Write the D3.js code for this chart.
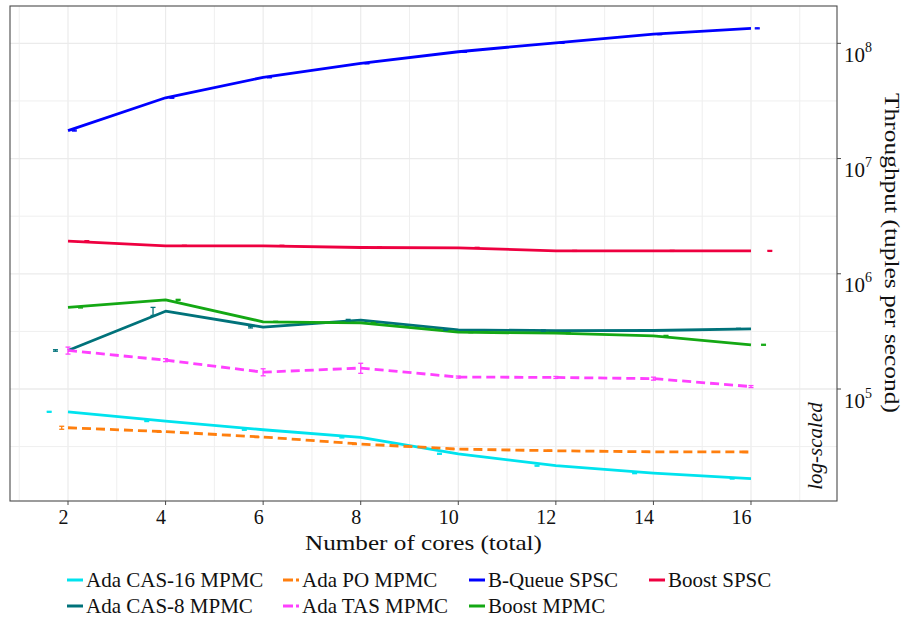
<!DOCTYPE html>
<html>
<head>
<meta charset="utf-8">
<script src="https://cdn.jsdelivr.net/npm/d3@7"></script>
<style>
  html, body { margin: 0; padding: 0; background: #fff; }
  svg { display: block; }
</style>
</head>
<body>
<svg id="chart" width="908" height="618"></svg>
<script>
// ---------------- DATA ----------------
const cores = [2, 4, 6, 8, 10, 12, 14, 16];

const seriesNames = [
  "Ada CAS-16 MPMC", "Ada CAS-8 MPMC", "Ada PO MPMC", "Ada TAS MPMC",
  "B-Queue SPSC", "Boost MPMC", "Boost SPSC"
];

const adaCas16 = [63400, 52700, 44300, 38000, 27400, 21600, 18600, 16700];
const adaCas8  = [216000, 473000, 344000, 396000, 326000, 321000, 322000, 333000];
const adaPo    = [46100, 42600, 38300, 33300, 30100, 29100, 28500, 28400];
const adaTas   = [216000, 178000, 140000, 152000, 127000, 126000, 123000, 105000];
const bQueue   = [17500000, 33700000, 50700000, 67000000, 84500000, 101000000, 120000000, 135000000];
const boostMp  = [510000, 594000, 383000, 375000, 311000, 305000, 289000, 242000];
const boostSp  = [1920000, 1750000, 1750000, 1690000, 1680000, 1580000, 1580000, 1580000];

// relative half-range of the error bars (fraction of the mean)
const adaCas16Err = [0.01, 0.01, 0.01, 0.01, 0.01, 0.01, 0.01, 0.01];
const adaCas8Err  = [0.015, 0.08, 0.015, 0.015, 0.01, 0.015, 0.01, 0.01];
const adaPoErr    = [0.03, 0.01, 0.01, 0.01, 0.01, 0.01, 0.01, 0.01];
const adaTasErr   = [0.07, 0.03, 0.07, 0.10, 0.02, 0.02, 0.03, 0.02];
const bQueueErr   = [0.01, 0.01, 0.01, 0.01, 0.01, 0.01, 0.01, 0.01];
const boostMpErr  = [0.01, 0.01, 0.01, 0.01, 0.01, 0.01, 0.01, 0.01];
const boostSpErr  = [0.01, 0.01, 0.01, 0.01, 0.01, 0.01, 0.01, 0.01];

const xTicks = [2, 4, 6, 8, 10, 12, 14, 16];
const yTickExponents = [5, 6, 7, 8];

const xTitle = "Number of cores (total)";
const yTitle = "Throughput (tuples per second)";
const scaleNote = "log-scaled";

// ---------------- STYLE ----------------
const FONT = "'Liberation Serif', 'DejaVu Serif', 'Noto Serif', 'Times New Roman', Times, serif";
const colors = ["#00E3EE", "#00727A", "#FF7F0E", "#FF40FF", "#0000FF", "#14A814", "#EE0040"];
const dashed = [false, false, true, true, false, false, false];
const values = [adaCas16, adaCas8, adaPo, adaTas, bQueue, boostMp, boostSp];
const errs = [adaCas16Err, adaCas8Err, adaPoErr, adaTasErr, bQueueErr, boostMpErr, boostSpErr];

const series = seriesNames.map((name, i) => ({
  name, color: colors[i], dashed: dashed[i],
  points: cores.map((c, j) => ({ x: c, y: values[i][j], e: errs[i][j] }))
}));

// ---------------- LAYOUT ----------------
const svg = d3.select("#chart").style("font-family", FONT);
const P = { left: 10, right: 837, top: 6, bottom: 501 };

const x = d3.scaleLinear().domain([0.811, 17.763]).range([P.left, P.right]);
const y = d3.scaleLog().domain([Math.pow(10, 4.028), Math.pow(10, 8.324)]).range([P.bottom, P.top]);

svg.append("rect").attr("width", 908).attr("height", 618).attr("fill", "#fff");

const grid = svg.append("g");
const xMinor = d3.range(1, 18, 2);
grid.selectAll(".xm").data(xMinor).join("line")
  .attr("x1", d => x(d)).attr("x2", d => x(d))
  .attr("y1", P.top).attr("y2", P.bottom)
  .attr("stroke", "#efefef").attr("stroke-width", 1);
grid.selectAll(".xM").data(xTicks).join("line")
  .attr("x1", d => x(d)).attr("x2", d => x(d))
  .attr("y1", P.top).attr("y2", P.bottom)
  .attr("stroke", "#ebebeb").attr("stroke-width", 1.2);
const yMinor = [4.5, 5.5, 6.5, 7.5];
grid.selectAll(".ym").data(yMinor).join("line")
  .attr("x1", P.left).attr("x2", P.right)
  .attr("y1", d => y(Math.pow(10, d))).attr("y2", d => y(Math.pow(10, d)))
  .attr("stroke", "#efefef").attr("stroke-width", 1);
grid.selectAll(".yM").data(yTickExponents).join("line")
  .attr("x1", P.left).attr("x2", P.right)
  .attr("y1", d => y(Math.pow(10, d))).attr("y2", d => y(Math.pow(10, d)))
  .attr("stroke", "#ebebeb").attr("stroke-width", 1.3);

// ---------------- LINES ----------------
const line = d3.line().x(d => x(d.x)).y(d => y(d.y));
const plot = svg.append("g");

series.forEach(s => {
  plot.append("path")
    .datum(s.points)
    .attr("d", line)
    .attr("fill", "none")
    .attr("stroke", s.color)
    .attr("stroke-width", 2.8)
    .attr("stroke-linejoin", "round")
    .attr("stroke-dasharray", s.dashed ? "9,5" : null);
});

// ---------------- ERROR BARS (dodged) ----------------
const dodgeWidth = 0.9;
const n = series.length;
series.forEach((s, i) => {
  const off = (i - (n - 1) / 2) * dodgeWidth / n;
  const g = plot.append("g").attr("stroke", s.color).attr("stroke-width", 1.3);
  s.points.forEach(p => {
    const cx = x(p.x + off);
    const y1 = y(p.y * (1 + p.e)), y2 = y(p.y * (1 - p.e));
    g.append("line").attr("x1", cx).attr("x2", cx).attr("y1", y1).attr("y2", y2);
    g.append("line").attr("x1", cx - 2.5).attr("x2", cx + 2.5).attr("y1", y1).attr("y2", y1);
    g.append("line").attr("x1", cx - 2.5).attr("x2", cx + 2.5).attr("y1", y2).attr("y2", y2);
  });
});

// ---------------- PANEL BORDER & AXES ----------------
svg.append("rect")
  .attr("x", P.left).attr("y", P.top)
  .attr("width", P.right - P.left).attr("height", P.bottom - P.top)
  .attr("fill", "none").attr("stroke", "#4a4a4a").attr("stroke-width", 1.1);

const xAx = svg.append("g");
xAx.selectAll("line").data(xTicks).join("line")
  .attr("x1", d => x(d)).attr("x2", d => x(d))
  .attr("y1", P.bottom).attr("y2", P.bottom + 4)
  .attr("stroke", "#4a4a4a").attr("stroke-width", 1);
xAx.selectAll("text").data(xTicks).join("text")
  .attr("x", d => x(d) + 0.5).attr("y", 524)
  .attr("text-anchor", "end")
  .style("font-family", FONT)
  .attr("font-size", 20)
  .attr("fill", "#111")
  .text(d => d);

const yAx = svg.append("g");
yAx.selectAll("line").data(yTickExponents).join("line")
  .attr("x1", P.right).attr("x2", P.right + 4)
  .attr("y1", d => y(Math.pow(10, d))).attr("y2", d => y(Math.pow(10, d)))
  .attr("stroke", "#4a4a4a").attr("stroke-width", 1);
const yt = yAx.selectAll("text").data(yTickExponents).join("text")
  .attr("x", 844).attr("y", d => y(Math.pow(10, d)) + 18.5)
  .style("font-family", FONT)
  .attr("fill", "#111")
  .attr("font-size", 21);
yt.append("tspan").text("10");
yt.append("tspan").attr("font-size", 14).attr("dy", -10).text(d => d);

svg.append("text")
  .attr("x", (305 + 542) / 2).attr("y", 550)
  .attr("text-anchor", "middle").attr("font-size", 22)
  .style("font-family", FONT).attr("fill", "#111")
  .attr("textLength", 237).attr("lengthAdjust", "spacingAndGlyphs")
  .text(xTitle);

svg.append("text")
  .attr("transform", "translate(885,253) rotate(90)")
  .attr("text-anchor", "middle").attr("font-size", 22)
  .style("font-family", FONT).attr("fill", "#111")
  .attr("textLength", 320).attr("lengthAdjust", "spacingAndGlyphs")
  .text(yTitle);

svg.append("text")
  .attr("transform", "translate(822,446) rotate(-90)")
  .attr("text-anchor", "middle").attr("font-size", 21)
  .style("font-family", FONT).attr("fill", "#111")
  .attr("font-style", "italic")
  .text(scaleNote);

// ---------------- LEGEND ----------------
const legendOrder = [0, 2, 4, 6, 1, 3, 5];
const colX = [67, 283, 469, 649];
const rowY = [587, 613];
const legend = svg.append("g");
legendOrder.forEach((si, k) => {
  const s = series[si];
  const r = k < 4 ? 0 : 1;
  const c = k < 4 ? k : k - 4;
  const lx = colX[c], ly = rowY[r];
  legend.append("line")
    .attr("x1", lx).attr("x2", lx + 16)
    .attr("y1", ly - 7).attr("y2", ly - 7)
    .attr("stroke", s.color).attr("stroke-width", 3)
    .attr("stroke-dasharray", s.dashed ? "10,3" : null);
  legend.append("text")
    .attr("x", lx + 19).attr("y", ly)
    .style("font-family", FONT).attr("fill", "#111")
    .attr("font-size", 21)
    .text(s.name);
});
</script>
</body>
</html>
